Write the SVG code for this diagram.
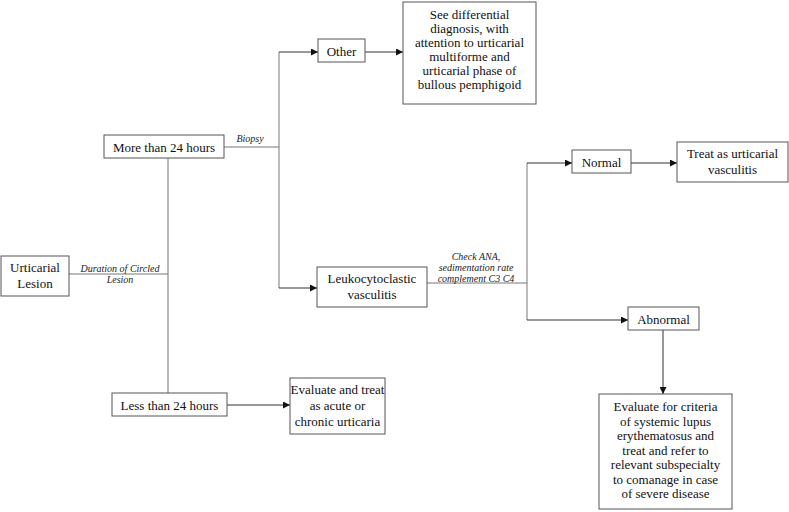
<svg xmlns="http://www.w3.org/2000/svg" width="789" height="512" viewBox="0 0 789 512">
<style>
.box{fill:#fff;stroke:#555;stroke-width:1}
text{font-family:'Liberation Serif','DejaVu Serif',serif}
.t{font-size:13px;fill:#111;text-anchor:middle}
.lbl{font-size:10px;font-style:italic;fill:#222;text-anchor:middle}
.ln{fill:none;stroke:#777;stroke-width:1}
.ar{fill:none;stroke:#333;stroke-width:1;marker-end:url(#ah)}
</style>
<defs>
<marker id="ah" viewBox="0 0 10 10" refX="10" refY="5" markerWidth="7" markerHeight="7" markerUnits="userSpaceOnUse" orient="auto">
<path d="M0,0 L10,5 L0,10 z" fill="#111"/>
</marker>
</defs>
<rect width="789" height="512" fill="#fff"/>
<g id="connectors">
<line class="ln" x1="69" y1="274" x2="168" y2="274"/>
<line class="ln" x1="168" y1="158" x2="168" y2="393"/>
<line class="ln" x1="224" y1="147" x2="279" y2="147"/>
<polyline class="ln" points="279,52 279,288"/>
<line class="ar" x1="279" y1="52" x2="318" y2="52"/>
<line class="ar" x1="279" y1="288" x2="317" y2="288"/>
<line class="ar" x1="365" y1="52" x2="403" y2="52"/>
<line class="ln" x1="427" y1="283" x2="527" y2="283"/>
<line class="ln" x1="527" y1="163" x2="527" y2="320"/>
<line class="ar" x1="527" y1="163" x2="572" y2="163"/>
<line class="ar" x1="527" y1="320" x2="628" y2="320"/>
<line class="ar" x1="631" y1="163" x2="677" y2="163"/>
<line class="ar" x1="663" y1="330" x2="663" y2="394"/>
<line class="ar" x1="227" y1="405" x2="290" y2="405"/>
<text class="lbl" x="250" y="142">Biopsy</text>
<text class="lbl" x="120" y="272">Duration of Circled</text>
<text class="lbl" x="120" y="283">Lesion</text>
<text class="lbl" x="476" y="260">Check ANA,</text>
<text class="lbl" x="476" y="271">sedimentation rate</text>
<text class="lbl" x="476" y="282">complement C3 C4</text>
</g>
<g id="n-lesion">
<rect class="box" x="1" y="256" width="68" height="40"/>
<text class="t" x="35" y="272">Urticarial</text>
<text class="t" x="35" y="288">Lesion</text>
</g>
<g id="n-more">
<rect class="box" x="104" y="135" width="120" height="23"/>
<text class="t" x="164" y="151.5">More than 24 hours</text>
</g>
<g id="n-less">
<rect class="box" x="112" y="393" width="115" height="23"/>
<text class="t" x="169.5" y="409.5">Less than 24 hours</text>
</g>
<g id="n-eval-acute">
<rect class="box" x="290" y="378" width="95" height="56"/>
<text class="t" x="337.5" y="394">Evaluate and treat</text>
<text class="t" x="337.5" y="410">as acute or</text>
<text class="t" x="337.5" y="426">chronic urticaria</text>
</g>
<g id="n-other">
<rect class="box" x="318" y="39" width="47" height="23"/>
<text class="t" x="341.5" y="55.5">Other</text>
</g>
<g id="n-seediff">
<rect class="box" x="403" y="2" width="133" height="102"/>
<text class="t" x="469.5" y="19">See differential</text>
<text class="t" x="469.5" y="33">diagnosis, with</text>
<text class="t" x="469.5" y="47">attention to urticarial</text>
<text class="t" x="469.5" y="61">multiforme and</text>
<text class="t" x="469.5" y="75">urticarial phase of</text>
<text class="t" x="469.5" y="89">bullous pemphigoid</text>
</g>
<g id="n-leuko">
<rect class="box" x="317" y="267" width="110" height="40"/>
<text class="t" x="372" y="283">Leukocytoclastic</text>
<text class="t" x="372" y="299">vasculitis</text>
</g>
<g id="n-normal">
<rect class="box" x="572" y="150" width="59" height="23"/>
<text class="t" x="601.5" y="166.5">Normal</text>
</g>
<g id="n-treat">
<rect class="box" x="677" y="142" width="111" height="40"/>
<text class="t" x="732.5" y="158">Treat as urticarial</text>
<text class="t" x="732.5" y="174">vasculitis</text>
</g>
<g id="n-abnormal">
<rect class="box" x="628" y="307" width="71" height="23"/>
<text class="t" x="663.5" y="323.5">Abnormal</text>
</g>
<g id="n-eval-sle">
<rect class="box" x="599" y="394" width="133" height="115"/>
<text class="t" x="665.5" y="411">Evaluate for criteria</text>
<text class="t" x="665.5" y="425.5">of systemic lupus</text>
<text class="t" x="665.5" y="440">erythematosus and</text>
<text class="t" x="665.5" y="454.5">treat and refer to</text>
<text class="t" x="665.5" y="469">relevant subspecialty</text>
<text class="t" x="665.5" y="483.5">to comanage in case</text>
<text class="t" x="665.5" y="498">of severe disease</text>
</g>
</svg>
